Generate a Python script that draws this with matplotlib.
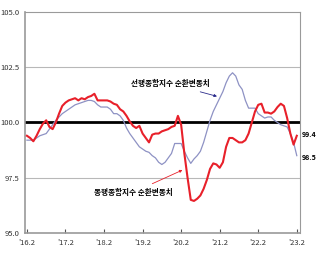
import matplotlib
matplotlib.use("Agg")
import matplotlib.pyplot as plt
import numpy as np

plt.rcParams['font.family'] = ['Noto Sans CJK KR', 'DejaVu Sans']

# Monthly data, 2016.02 .. 2023.02
coincident = [99.4, 99.3, 99.15, 99.4, 99.7, 99.95, 100.1, 99.8, 99.7, 100.0,
              100.4, 100.75, 100.9, 101.0, 101.05, 101.1, 101.0, 101.1, 101.05, 101.15,
              101.2, 101.3, 101.0, 101.0, 101.0, 101.0, 100.95, 100.85, 100.8, 100.6,
              100.5, 100.3, 100.05, 99.85, 99.75, 99.85, 99.5, 99.3, 99.1, 99.45,
              99.5, 99.5, 99.6, 99.65, 99.7, 99.8, 99.85, 100.3, 99.9, 98.6,
              97.5, 96.5, 96.45, 96.55, 96.7, 97.0, 97.4, 97.9, 98.15, 98.1,
              97.95, 98.2, 98.9, 99.3, 99.3, 99.2, 99.1, 99.1, 99.2, 99.5,
              100.0, 100.5, 100.8, 100.85, 100.45, 100.45, 100.4, 100.5, 100.7, 100.85,
              100.75, 100.2, 99.5, 99.0, 99.4]
leading = [99.2, 99.2, 99.2, 99.3, 99.4, 99.45, 99.5, 99.7, 99.9, 100.1,
           100.25, 100.4, 100.5, 100.6, 100.7, 100.8, 100.85, 100.9, 100.95, 101.0,
           101.0, 100.95, 100.8, 100.7, 100.7, 100.7, 100.6, 100.4, 100.4, 100.3,
           100.1, 99.75, 99.5, 99.3, 99.1, 98.9, 98.8, 98.7, 98.65, 98.5,
           98.4, 98.2, 98.1, 98.2, 98.4, 98.6, 99.05, 99.05, 99.05, 98.7,
           98.4, 98.15, 98.35, 98.5, 98.7, 99.1, 99.6, 100.1, 100.5, 100.8,
           101.1, 101.4, 101.8, 102.1, 102.25, 102.1, 101.7, 101.5, 101.0, 100.65,
           100.65, 100.65, 100.4, 100.3, 100.2, 100.25, 100.25, 100.1, 100.0, 99.9,
           99.85, 99.8, 99.5, 99.1, 98.5]
tick_labels = ["'16.2", "'17.2", "'18.2", "'19.2", "'20.2", "'21.2", "'22.2", "'23.2"]
y_ticks = [95.0, 97.5, 100.0, 102.5, 105.0]
lead_name = "선행종합지수 순환변동치"
coin_name = "동행종합지수 순환변동치"

months = np.arange(len(coincident))

fig = plt.figure(figsize=(3.17, 2.60), dpi=100)
ax = fig.add_axes([25/317, 27/260, 275/317, 221/260])

for yv in [97.5, 102.5]:
    ax.axhline(yv, color='#b8b8b8', lw=0.8, zorder=1)
ax.axhline(100.0, color='black', lw=2.0, zorder=2)

ax.plot(months, leading, color='#8e92c4', lw=0.9, zorder=3)
ax.plot(months, coincident, color='#e8202a', lw=1.5, zorder=4)

ax.set_xlim(-0.6, 85.0)
ax.set_ylim(95.0, 105.0)
ax.set_yticks(y_ticks)
ax.set_yticklabels([f"{v:.1f}" for v in y_ticks])
ax.set_xticks(np.arange(0, len(coincident), 12))
ax.set_xticklabels(tick_labels)
ax.tick_params(axis='x', direction='in', length=3, width=0.8, colors='#555555',
               labelsize=5.5, labelcolor='#333333', pad=4)
ax.tick_params(axis='y', length=0, labelsize=5.5, labelcolor='#333333', pad=4)
for s in ax.spines.values():
    s.set_color('#9a9a9a')
    s.set_linewidth(0.8)
ax.spines['left'].set_linewidth(1.2)
ax.spines['bottom'].set_linewidth(1.2)

ax.annotate(lead_name, xy=(60, 101.15), xytext=(57, 101.75), fontsize=5.5,
            fontweight='bold', ha='right', va='center',
            arrowprops=dict(arrowstyle='-|>', color='#2a2a8a', lw=0.6,
                            mutation_scale=4))
ax.annotate(coin_name, xy=(49.2, 97.9), xytext=(45.5, 96.85), fontsize=5.5,
            fontweight='bold', ha='right', va='center',
            arrowprops=dict(arrowstyle='-|>', color='#e8202a', lw=0.6,
                            mutation_scale=4))

ax.text(1.005, (coincident[-1] - 95) / 10 + 0.005, f"{coincident[-1]:.1f}",
        transform=ax.transAxes, fontsize=5, fontweight='bold', va='center', ha='left')
ax.text(1.005, (leading[-1] - 95) / 10 - 0.01, f"{leading[-1]:.1f}",
        transform=ax.transAxes, fontsize=5, fontweight='bold', va='center', ha='left')

fig.savefig("out.png", dpi=100)
